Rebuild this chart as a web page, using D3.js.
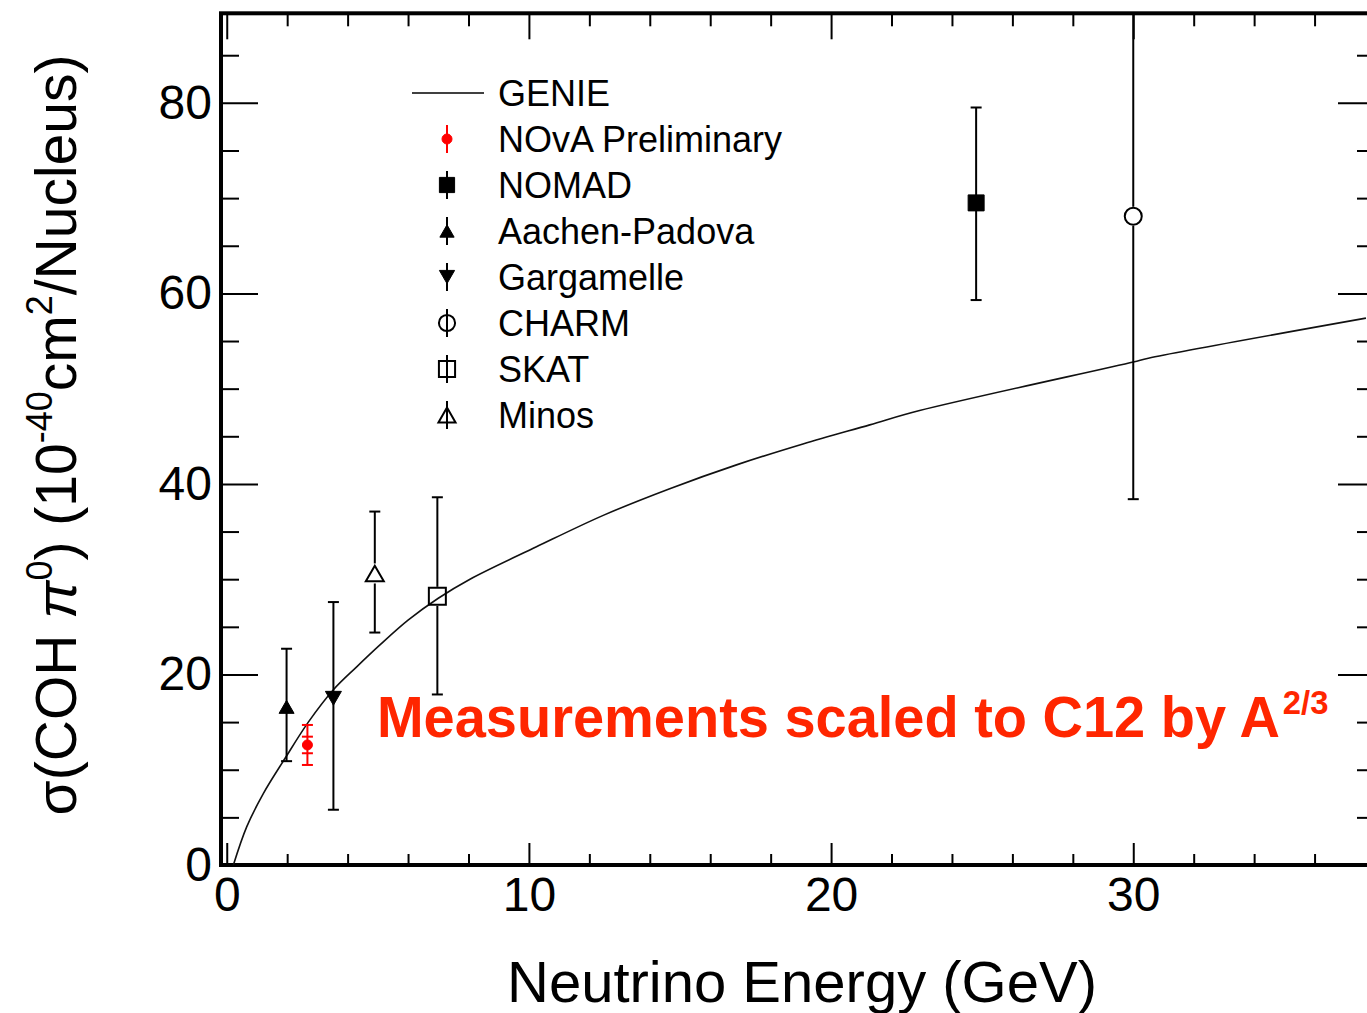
<!DOCTYPE html>
<html>
<head>
<meta charset="utf-8">
<title>COH pi0 cross section</title>
<script src="https://cdn.jsdelivr.net/npm/d3@7"></script>
<style>
  body { margin: 0; background: white; }
  svg { display: block; font-family: "Liberation Sans", Arial, Helvetica, sans-serif; }
  .axis path.domain { display: none; }
  .axis .tick line { stroke: #000; stroke-width: 2; }
  .axis .tick text { font-size: 48px; fill: #000; font-family: "Liberation Sans", Arial, sans-serif; }
  .legend text { font-size: 36px; fill: #000; }
</style>
</head>
<body>
<svg id="chart" width="1367" height="1013"></svg>
<script>
// GENIE prediction (GeV, 1e-40 cm2/nucleus)
var genieEnergy = [0.22, 0.66, 1.21, 1.93, 2.7, 3.53, 4.3, 5.07, 6.0, 7.0, 8.05, 10.25, 12.46, 14.66, 16.87, 19.07, 21.28, 22.93, 30.0, 30.5, 37.7];
var genieXsec   = [0, 4.0, 7.5, 11.2, 15.0, 18.4, 20.8, 23.1, 25.7, 28.0, 30.0, 33.4, 36.7, 39.5, 42.0, 44.2, 46.2, 47.7, 52.8, 53.2, 57.4];

// measurements scaled to C12
var experiments = ["NOvA Preliminary", "NOMAD", "Aachen-Padova", "Gargamelle", "CHARM", "SKAT", "Minos"];
var expEnergy   = [2.67, 24.8, 1.98, 3.53, 30.0, 6.97, 4.9];
var expXsec     = [12.6, 69.5, 16.6, 17.5, 68.1, 28.2, 30.6];
var expErrDown  = [2.1, 10.2, 5.7, 11.7, 29.7, 10.3, 6.2];
var expErrUp    = [2.1, 10.0, 6.1, 10.1, 29.7, 10.4, 6.5];
var novaStatErr = 0.87;

var xMajorTicks = [0, 10, 20, 30];
var xMinorTicks = [2, 4, 6, 8, 12, 14, 16, 18, 22, 24, 26, 28, 32, 34, 36];
var yMajorTicks = [0, 20, 40, 60, 80];
var yMinorTicks = [5, 10, 15, 25, 30, 35, 45, 50, 55, 65, 70, 75, 85];

// marker look per experiment
var markerStyle = {
  "NOvA Preliminary": {shape: "circle",  size: 10, filled: true,  color: "#ff0000"},
  "NOMAD":            {shape: "square",  size: 16, filled: true,  color: "#000"},
  "Aachen-Padova":    {shape: "triUp",   size: 15, filled: true,  color: "#000"},
  "Gargamelle":       {shape: "triDown", size: 16, filled: true,  color: "#000"},
  "CHARM":            {shape: "circle",  size: 17, filled: false, color: "#000"},
  "SKAT":             {shape: "square",  size: 17, filled: false, color: "#000"},
  "Minos":            {shape: "triUp",   size: 18, filled: false, color: "#000"}
};

var frameLeft = 221, frameRight = 1375, frameTop = 13.3, frameBottom = 865;

var x = d3.scaleLinear().domain([-0.19, 38]).range([frameLeft, frameRight]);
var y = d3.scaleLinear().domain([0, 89.4]).range([frameBottom, frameTop]);

var svg = d3.select("#chart");
svg.append("rect").attr("width", 1367).attr("height", 1013).attr("fill", "white");

svg.append("clipPath").attr("id", "plotClip")
  .append("rect").attr("x", frameLeft).attr("y", frameTop)
  .attr("width", frameRight - frameLeft).attr("height", frameBottom - frameTop);

// axes: major + minor, all ticks pointing inward
function addAxis(axis, tr) {
  svg.append("g").attr("class", "axis").attr("transform", tr).call(axis);
}
addAxis(d3.axisBottom(x).tickValues(xMajorTicks).tickSizeInner(-22).tickSizeOuter(0).tickPadding(12), "translate(0," + frameBottom + ")");
addAxis(d3.axisBottom(x).tickValues(xMinorTicks).tickSizeInner(-11).tickSizeOuter(0).tickFormat(""), "translate(0," + frameBottom + ")");
addAxis(d3.axisTop(x).tickValues(xMajorTicks).tickSizeInner(-26).tickSizeOuter(0).tickFormat(""), "translate(0," + frameTop + ")");
addAxis(d3.axisTop(x).tickValues(xMinorTicks).tickSizeInner(-13).tickSizeOuter(0).tickFormat(""), "translate(0," + frameTop + ")");
addAxis(d3.axisLeft(y).tickValues(yMajorTicks).tickSizeInner(-37).tickSizeOuter(0).tickPadding(9), "translate(" + frameLeft + ",0)");
addAxis(d3.axisLeft(y).tickValues(yMinorTicks).tickSizeInner(-18).tickSizeOuter(0).tickFormat(""), "translate(" + frameLeft + ",0)");
addAxis(d3.axisRight(y).tickValues(yMajorTicks).tickSizeInner(-37).tickSizeOuter(0).tickFormat(""), "translate(" + frameRight + ",0)");
addAxis(d3.axisRight(y).tickValues(yMinorTicks).tickSizeInner(-18).tickSizeOuter(0).tickFormat(""), "translate(" + frameRight + ",0)");

// frame
svg.append("rect")
  .attr("x", frameLeft).attr("y", frameTop)
  .attr("width", frameRight - frameLeft).attr("height", frameBottom - frameTop)
  .attr("fill", "none").attr("stroke", "#000").attr("stroke-width", 4);

var plot = svg.append("g").attr("clip-path", "url(#plotClip)");

// GENIE curve
var genie = genieEnergy.map(function(e, i) { return [e, genieXsec[i]]; });
plot.append("path")
  .datum(genie)
  .attr("fill", "none")
  .attr("stroke", "#111")
  .attr("stroke-width", 1.6)
  .attr("d", d3.line().x(function(d) { return x(d[0]); }).y(function(d) { return y(d[1]); }).curve(d3.curveCatmullRom.alpha(0.5)));

function markerPath(shape, s) {
  var h = s / 2;
  if (shape === "square") return "M" + (-h) + "," + (-h) + "h" + s + "v" + s + "h" + (-s) + "Z";
  if (shape === "triUp") { var t = s * 0.866 / 2; return "M0," + (-t) + "L" + h + "," + t + "L" + (-h) + "," + t + "Z"; }
  if (shape === "triDown") { var t2 = s * 0.866 / 2; return "M0," + t2 + "L" + h + "," + (-t2) + "L" + (-h) + "," + (-t2) + "Z"; }
  return null;
}

function drawMarker(g, st, cx, cy, scale) {
  var s = st.size * (scale || 1);
  var m;
  if (st.shape === "circle") {
    m = g.append("circle").attr("cx", cx).attr("cy", cy).attr("r", s / 2);
  } else {
    m = g.append("path").attr("d", markerPath(st.shape, s)).attr("transform", "translate(" + cx + "," + cy + ")");
  }
  m.attr("fill", st.filled ? st.color : "none")
   .attr("stroke", st.color)
   .attr("stroke-width", st.filled ? 1 : 2);
}

function vline(g, x0, y0, y1, color) {
  g.append("line").attr("x1", x0).attr("x2", x0).attr("y1", y0).attr("y2", y1)
    .attr("stroke", color).attr("stroke-width", 2);
}
function cap(g, x0, y0, color) {
  g.append("line").attr("x1", x0 - 5.5).attr("x2", x0 + 5.5).attr("y1", y0).attr("y2", y0)
    .attr("stroke", color).attr("stroke-width", 2);
}

// measurements with error bars
experiments.forEach(function(name, i) {
  var st = markerStyle[name];
  var cx = x(expEnergy[i]), cy = y(expXsec[i]);
  var yHi = y(expXsec[i] + expErrUp[i]), yLo = y(expXsec[i] - expErrDown[i]);
  var gap = st.filled ? 0 : st.size / 2 + 1;
  vline(plot, cx, yHi, cy - gap, st.color);
  vline(plot, cx, cy + gap, yLo, st.color);
  cap(plot, cx, yHi, st.color);
  cap(plot, cx, yLo, st.color);
  if (name === "NOvA Preliminary") {
    cap(plot, cx, y(expXsec[i] + novaStatErr), st.color);
    cap(plot, cx, y(expXsec[i] - novaStatErr), st.color);
  }
  drawMarker(plot, st, cx, cy);
});

// legend
var legend = svg.append("g").attr("class", "legend");
var legX = 447, legY0 = 93, legStep = 46;
legend.append("line").attr("x1", 412).attr("x2", 484).attr("y1", legY0).attr("y2", legY0)
  .attr("stroke", "#000").attr("stroke-width", 1.6);
legend.append("text").attr("x", 498).attr("y", legY0 + 13).text("GENIE");
experiments.forEach(function(name, i) {
  var st = markerStyle[name];
  var cy = legY0 + (i + 1) * legStep;
  vline(legend, legX, cy - 14, cy + 14, st.color);
  drawMarker(legend, st, legX, cy, name === "NOvA Preliminary" ? 1 : 0.95);
  legend.append("text").attr("x", 498).attr("y", cy + 13).text(name);
});

// note, slightly condensed like the original
var note = svg.append("text")
  .attr("transform", "translate(377,737) scale(0.965,1)")
  .style("font-size", "58px").style("font-weight", "bold").style("fill", "#ff2600");
note.append("tspan").text("Measurements scaled to C12 by A");
note.append("tspan").attr("dx", 3).attr("dy", -23).style("font-size", "34px").text("2/3");

// axis titles
svg.append("text")
  .attr("x", 802).attr("y", 1002)
  .attr("text-anchor", "middle")
  .style("font-size", "58px")
  .text("Neutrino Energy (GeV)");

var yt = svg.append("text")
  .attr("transform", "translate(76,435) rotate(-90)")
  .attr("text-anchor", "middle")
  .style("font-size", "57px");
yt.append("tspan").text("\u03c3(COH ");
yt.append("tspan").style("font-style", "italic").text("\u03c0");
yt.append("tspan").attr("dy", -24).style("font-size", "36px").text("0");
yt.append("tspan").attr("dy", 24).text(") (10");
yt.append("tspan").attr("dy", -24).style("font-size", "36px").text("-40");
yt.append("tspan").attr("dy", 24).text("cm");
yt.append("tspan").attr("dy", -24).style("font-size", "36px").text("2");
yt.append("tspan").attr("dy", 24).text("/Nucleus)");
</script>
</body>
</html>
